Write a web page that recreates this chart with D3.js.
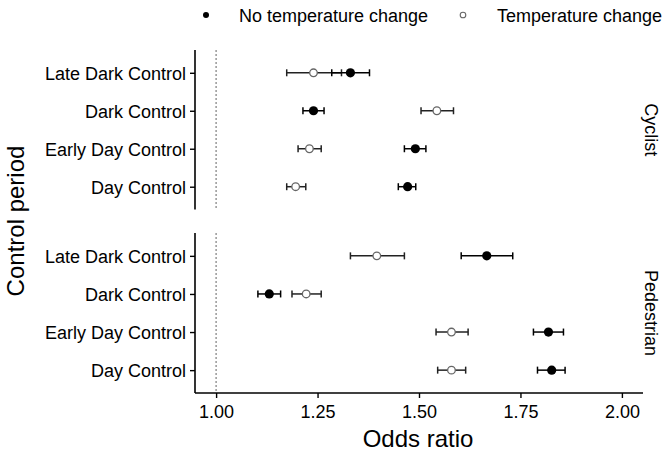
<!DOCTYPE html>
<html>
<head>
<meta charset="utf-8">
<script src="https://cdn.jsdelivr.net/npm/d3@7"></script>
<style>
  body { margin: 0; background: #fff; }
  text { font-family: "Liberation Sans", Arial, sans-serif; fill: #000; }
</style>
</head>
<body>
<div id="chart"></div>
<script>
// data
let periods = ["Late Dark Control", "Dark Control", "Early Day Control", "Day Control"];
let panels = ["Cyclist", "Pedestrian"];
let xTicks = [1.00, 1.25, 1.50, 1.75, 2.00];

// no temperature change (filled)
let cycNoEst = [1.331, 1.240, 1.491, 1.472];
let cycNoLo  = [1.285, 1.214, 1.464, 1.449];
let cycNoHi  = [1.378, 1.266, 1.517, 1.492];
let pedNoEst = [1.667, 1.131, 1.819, 1.827];
let pedNoLo  = [1.604, 1.103, 1.782, 1.792];
let pedNoHi  = [1.731, 1.159, 1.856, 1.860];

// temperature change (open)
let cycTEst = [1.240, 1.544, 1.230, 1.196];
let cycTLo  = [1.174, 1.505, 1.202, 1.174];
let cycTHi  = [1.309, 1.585, 1.259, 1.221];
let pedTEst = [1.396, 1.222, 1.580, 1.580];
let pedTLo  = [1.331, 1.187, 1.542, 1.546];
let pedTHi  = [1.464, 1.259, 1.621, 1.615];

let svgWidth = 669;
let svgHeight = 453;

let svg = d3.select("#chart")
  .append("svg")
  .attr("width", svgWidth)
  .attr("height", svgHeight);

let x = d3.scaleLinear()
  .domain([0.948, 2.052])
  .range([195, 643]);

let panelRanges = [[50, 209.5], [233, 393]];

function rows(est, lo, hi) {
  return periods.map((p, i) => ({period: p, est: est[i], lo: lo[i], hi: hi[i]}));
}

let panelData = [
  {name: panels[0], open: rows(cycTEst, cycTLo, cycTHi), filled: rows(cycNoEst, cycNoLo, cycNoHi)},
  {name: panels[1], open: rows(pedTEst, pedTLo, pedTHi), filled: rows(pedNoEst, pedNoLo, pedNoHi)}
];

panelData.forEach(function(pd, k) {
  let r = panelRanges[k];
  let y = d3.scalePoint().domain(periods).range(r).padding(0.6);
  let g = svg.append("g");

  // reference line at 1
  g.append("line")
    .attr("x1", x(1)).attr("x2", x(1))
    .attr("y1", r[0]).attr("y2", r[1])
    .attr("stroke", "#888")
    .attr("stroke-width", 1.3)
    .attr("stroke-dasharray", "2,2");

  // y axis
  let yAxis = g.append("g")
    .attr("transform", `translate(${x.range()[0]},0)`)
    .call(d3.axisLeft(y).tickSize(5).tickPadding(4));
  yAxis.select(".domain").attr("stroke-width", 1.6).attr("d", `M0,${r[0]}V${r[1]}`);
  yAxis.selectAll(".tick line").attr("stroke-width", 1.4);
  yAxis.selectAll(".tick text")
    .style("font-size", "18px")
    .style("font-family", "'Liberation Sans', Arial, sans-serif")
    .attr("fill", "#000")
    .attr("dy", "0.35em");

  // draw series: open first, filled on top
  [["open", pd.open], ["filled", pd.filled]].forEach(function(s) {
    let type = s[0], data = s[1];
    let col = type === "open" ? "#222" : "#000";
    let sg = g.append("g");
    sg.selectAll(".bar").data(data).enter().append("line")
      .attr("x1", d => x(d.lo)).attr("x2", d => x(d.hi))
      .attr("y1", d => y(d.period)).attr("y2", d => y(d.period))
      .attr("stroke", col).attr("stroke-width", 1.5);
    sg.selectAll(".capl").data(data).enter().append("line")
      .attr("x1", d => x(d.lo)).attr("x2", d => x(d.lo))
      .attr("y1", d => y(d.period) - 3.5).attr("y2", d => y(d.period) + 3.5)
      .attr("stroke", col).attr("stroke-width", 1.5);
    sg.selectAll(".capr").data(data).enter().append("line")
      .attr("x1", d => x(d.hi)).attr("x2", d => x(d.hi))
      .attr("y1", d => y(d.period) - 3.5).attr("y2", d => y(d.period) + 3.5)
      .attr("stroke", col).attr("stroke-width", 1.5);
    sg.selectAll("circle").data(data).enter().append("circle")
      .attr("cx", d => x(d.est)).attr("cy", d => y(d.period))
      .attr("r", type === "open" ? 3.8 : 4.6)
      .attr("fill", type === "open" ? "#fff" : "#000")
      .attr("stroke", type === "open" ? "#666" : "#000")
      .attr("stroke-width", type === "open" ? 1.3 : 0);
  });

  // strip label
  svg.append("text")
    .attr("transform", `translate(651, ${(r[0] + r[1]) / 2}) rotate(90)`)
    .attr("text-anchor", "middle")
    .attr("dy", "0.35em")
    .style("font-size", "18px")
    .text(pd.name);
});

// x axis on bottom panel
let xAxis = svg.append("g")
  .attr("transform", `translate(0, ${panelRanges[1][1]})`)
  .call(d3.axisBottom(x).tickValues(xTicks).tickFormat(d3.format(".2f")).tickSize(5).tickPadding(7));
xAxis.select(".domain").attr("stroke-width", 1.6).attr("d", `M${x.range()[0]},0H${x.range()[1]}`);
xAxis.selectAll(".tick line").attr("stroke-width", 1.4);
xAxis.selectAll(".tick text")
  .style("font-size", "18px")
  .style("font-family", "'Liberation Sans', Arial, sans-serif")
  .attr("fill", "#000");

// axis titles
svg.append("text")
  .attr("x", 418).attr("y", 447)
  .attr("text-anchor", "middle")
  .style("font-size", "24px")
  .text("Odds ratio");

svg.append("text")
  .attr("transform", "translate(16, 221) rotate(-90)")
  .attr("text-anchor", "middle")
  .attr("dy", "0.35em")
  .style("font-size", "24px")
  .text("Control period");

// legend
let legend = svg.append("g");
legend.append("circle").attr("cx", 206).attr("cy", 15).attr("r", 3).attr("fill", "#000");
legend.append("text").attr("x", 239).attr("y", 21.5).style("font-size", "18px").text("No temperature change");
legend.append("circle").attr("cx", 463).attr("cy", 15).attr("r", 2.8)
  .attr("fill", "#fff").attr("stroke", "#666").attr("stroke-width", 1.1);
legend.append("text").attr("x", 497).attr("y", 21.5).style("font-size", "18px").text("Temperature change");
</script>
</body>
</html>
